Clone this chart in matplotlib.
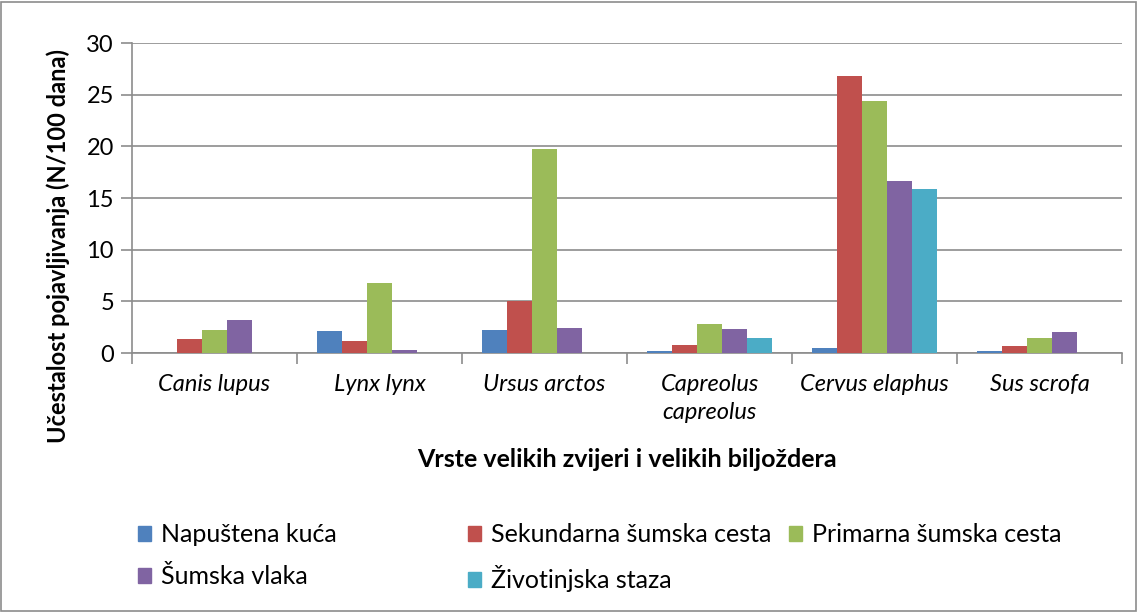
import matplotlib
matplotlib.use("Agg")
import matplotlib.pyplot as plt
from matplotlib.patches import Rectangle, Patch
import numpy as np

plt.rcParams["font.family"] = ["Lato", "DejaVu Sans"]

species = ["Canis lupus", "Lynx lynx", "Ursus arctos",
           "Capreolus\ncapreolus", "Cervus elaphus", "Sus scrofa"]
series = ["Napuštena kuća", "Sekundarna šumska cesta", "Primarna šumska cesta",
          "Šumska vlaka", "Životinjska staza"]
napustena = [0.0, 2.16, 2.2, 0.15, 0.51, 0.15]
sekundarna = [1.36, 1.13, 5.07, 0.8, 26.84, 0.64]
primarna = [2.26, 6.8, 19.75, 2.77, 24.4, 1.48]
vlaka = [3.23, 0.26, 2.42, 2.32, 16.65, 2.06]
staza = [0.0, 0.0, 0.0, 1.48, 15.84, 0.0]
colors = ["#4F81BD", "#C0504D", "#9BBB59", "#8064A2", "#4BACC6"]

values = [napustena, sekundarna, primarna, vlaka, staza]

fig = plt.figure(figsize=(11.38, 6.12), dpi=100)
ax = fig.add_axes([0.116, 0.4232, 0.870, 0.5065])

x = np.arange(len(species))
w = 0.758 / len(series)
for i, (vals, c) in enumerate(zip(values, colors)):
    ax.bar(x + (i - 2) * w, vals, w, color=c, label=series[i], zorder=3)

ax.set_xlim(-0.5, len(species) - 0.5)
ax.set_ylim(0, 30)
ax.set_yticks(range(0, 31, 5))
ax.grid(axis="y", color="#8C8C8C", linewidth=1.2, zorder=0)
ax.set_axisbelow(True)
for s in ["top", "right"]:
    ax.spines[s].set_visible(False)
for s in ["left", "bottom"]:
    ax.spines[s].set_color("#8C8C8C")
    ax.spines[s].set_linewidth(1.2)

# category boundary ticks
ax.set_xticks(np.arange(-0.5, len(species) + 0.5, 1.0))
ax.set_xticklabels([])
ax.set_xticks(x, minor=True)
ax.set_xticklabels(species, minor=True, fontstyle="italic", fontsize=17,
                   linespacing=1.45)
ax.tick_params(axis="x", which="major", length=8, color="#8C8C8C", width=1.2)
ax.tick_params(axis="x", which="minor", length=0, pad=15)
ax.tick_params(axis="y", length=8, color="#8C8C8C", width=1.2, labelsize=17, pad=5)

ax.set_xlabel("Vrste velikih zvijeri i velikih biljoždera", fontsize=18,
              fontweight="bold")
ax.xaxis.set_label_coords(0.5, (353 - 460) / 310, transform=ax.transAxes)
ax.set_ylabel("Učestalost pojavljivanja (N/100 dana)", fontsize=17,
              fontweight="bold")
ax.yaxis.set_label_coords((58 - 132) / 990, (353 - 246) / 310, transform=ax.transAxes)
ax.yaxis.label.set_va("center")
ax.xaxis.label.set_va("center")

# legend: three columns placed like the original
col_x = [0.121, 0.411, 0.693]
for j, cx in enumerate(col_x):
    idx = [k for k in (j, j + 3) if k < len(series)]
    handles = [Patch(color=colors[k], label=series[k]) for k in idx]
    fig.legend(handles=handles, loc="upper left", bbox_to_anchor=(cx, 0.145),
               bbox_transform=fig.transFigure, frameon=False, fontsize=18,
               handlelength=0.55, handleheight=0.55, handletextpad=0.4,
               labelspacing=0.75, borderaxespad=0, borderpad=0)

fig.patches.append(Rectangle((0.001, 0.002), 0.997, 0.995, transform=fig.transFigure,
                             fill=False, edgecolor="#8C8C8C", linewidth=1.2))

fig.savefig("out.png", dpi=100)
